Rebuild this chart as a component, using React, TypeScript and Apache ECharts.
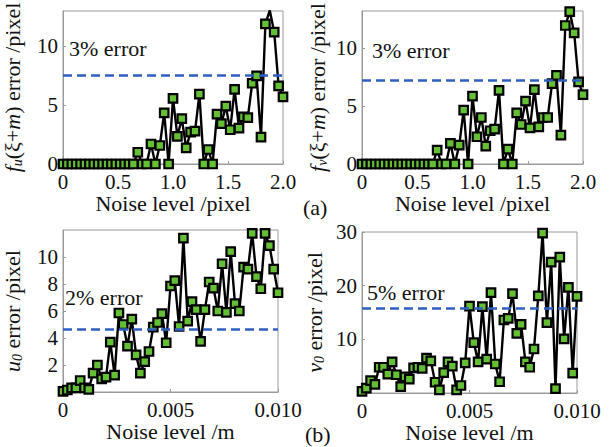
import React, { useEffect, useRef } from "react";
import * as echarts from "echarts";

// Noise levels (pixel) for panel (a)
const noisePx = [
  0, 0.04, 0.08, 0.12, 0.16, 0.2, 0.24, 0.28, 0.32, 0.36, 0.4, 0.44, 0.48, 0.52, 0.56, 0.6, 0.64,
  0.68, 0.72, 0.76, 0.8, 0.84, 0.88, 0.92, 0.96, 1.0, 1.04, 1.08, 1.12, 1.16, 1.2, 1.24, 1.28,
  1.32, 1.36, 1.4, 1.44, 1.48, 1.52, 1.56, 1.6, 1.64, 1.68, 1.72, 1.76, 1.8, 1.84, 1.88, 1.92,
  1.96, 2.0,
];
// Noise levels (m) for panel (b)
const noiseM = [
  0, 0.0002, 0.0004, 0.0006, 0.0008, 0.001, 0.0012, 0.0014, 0.0016, 0.0018, 0.002, 0.0022, 0.0024,
  0.0026, 0.0028, 0.003, 0.0032, 0.0034, 0.0036, 0.0038, 0.004, 0.0042, 0.0044, 0.0046, 0.0048,
  0.005, 0.0052, 0.0054, 0.0056, 0.0058, 0.006, 0.0062, 0.0064, 0.0066, 0.0068, 0.007, 0.0072,
  0.0074, 0.0076, 0.0078, 0.008, 0.0082, 0.0084, 0.0086, 0.0088, 0.009, 0.0092, 0.0094, 0.0096,
  0.0098, 0.01,
];

const fuError = [
  0, 0, 0, 0, 0, 0, 0, 0, 0, 0, 0, 0, 0, 0, 0, 0, 0,
  1.0, 0, 0, 1.7, 0, 1.57, 4.34, 0,
  5.57, 2.34, 3.86, 1.37, 2.71, 2.8, 5.94, 0, 1.23, 0, 4.23, 3.43, 4.91, 2.91, 6.34, 3.05, 4.0,
  3.94, 6.86, 7.48, 2.29, 11.91, 13.05, 11.2, 6.63, 5.71,
];
const fvError = [
  0, 0, 0, 0, 0, 0, 0, 0, 0, 0, 0, 0, 0, 0, 0, 0, 0,
  1.2, 0, 0, 1.78, 0, 1.63, 4.64, 0,
  5.85, 2.35, 4.01, 1.55, 2.87, 3.01, 6.36, 0, 1.29, 0, 4.41, 3.41, 5.42, 3.12, 6.42, 3.21, 4.01,
  4.01, 6.94, 7.65, 2.49, 11.95, 13.15, 11.32, 7.08, 5.99,
];
const u0Error = [
  0.05, 0.15, 0.3, 0.3, 0.85, 0.3, 0.2, 1.4, 2.0, 0.97, 1.1, 3.7, 1.25, 5.85, 5.0, 3.4, 5.4, 2.75,
  1.4, 2.25, 3.0, 4.8, 5.15, 5.8, 3.65, 7.85, 8.25, 4.85, 11.4, 5.25, 6.7, 6.1, 3.75, 6.1, 8.15,
  7.7, 6.0, 9.5, 5.9, 10.4, 6.55, 6.0, 9.25, 9.1, 11.75, 8.55, 7.65, 11.75, 10.85, 9.1, 7.35,
];
const v0Error = [
  0.3, 0.9, 2.3, 1.6, 4.8, 4.8, 3.5, 5.8, 3.4, 1.2, 3.0, 2.6, 4.7, 4.8, 4.6, 6.5, 6.0, 2.0, 0.6,
  3.8, 5.8, 5.0, 0.6, 1.4, 5.6, 16.2, 9.4, 5.8, 16.1, 6.3, 18.7, 5.4, 2.1, 13.6, 13.9, 18.5, 11.1,
  12.8, 5.8, 4.8, 8.2, 18.1, 29.8, 13.1, 24.4, 0.8, 25.3, 10.1, 19.7, 3.7, 18.0,
];

const thresholds = [7.55, 7.22, 4.65, 15.8];
const thresholdLabels = ["3% error", "3% error", "2% error", "5% error"];
const xTitles = ["Noise level /pixel", "Noise level /pixel", "Noise level /m", "Noise level /m"];
const yTitles = [
  "{it|f}{sub|u}(ξ+{it|m}) error /pixel",
  "{it|f}{sub|v}(ξ+{it|m}) error /pixel",
  "{it|u}{sub|0} error /pixel",
  "{it|v}{sub|0} error /pixel",
];
const panelLabels = ["(a)", "(b)"];

const FONT = "Liberation Serif";
const GRAY = "#9a9a9a";
const INK = "#111";

export default function App() {
  const ref = useRef<HTMLDivElement>(null);
  useEffect(() => {
    if (!ref.current) return;
    const chart = echarts.init(ref.current, null, { renderer: "svg" });

    const grids = [
      { left: 62, top: 11, width: 221, height: 153 },
      { left: 362, top: 11, width: 221, height: 153 },
      { left: 62, top: 230, width: 216, height: 162 },
      { left: 362, top: 232, width: 215, height: 161 },
    ].map((g) => ({ ...g, show: true, borderColor: GRAY, borderWidth: 1, containLabel: false }));

    const xCfg = [
      { min: 0, max: 2, interval: 0.5, fmt: (v: number) => (v === 0 ? "0" : v.toFixed(1)), gap: 24 },
      { min: 0, max: 2, interval: 0.5, fmt: (v: number) => (v === 0 ? "0" : v.toFixed(1)), gap: 24 },
      { min: 0, max: 0.01, interval: 0.005, fmt: (v: number) => (v === 0 ? "0" : v.toFixed(3)), gap: 27 },
      { min: 0, max: 0.01, interval: 0.005, fmt: (v: number) => (v === 0 ? "0" : v.toFixed(3)), gap: 27 },
    ];
    const yCfg = [
      { min: 0, max: 13, interval: 5, showMin: true, showMax: false, gap: 39 },
      { min: 0, max: 13.2, interval: 5, showMin: true, showMax: false, gap: 33 },
      { min: 0, max: 12, interval: 2, showMin: false, showMax: false, gap: 39 },
      { min: 0, max: 30, interval: 10, showMin: false, showMax: true, gap: 36 },
    ];

    const richName = {
      it: { fontStyle: "italic", fontSize: 22, fontFamily: FONT, color: INK },
      sub: { fontStyle: "italic", fontSize: 14, fontFamily: FONT, color: INK, padding: [10, 0, 0, 0] },
    };

    const xAxis = xCfg.map((c, i) => ({
      type: "value",
      gridIndex: i,
      min: c.min,
      max: c.max,
      interval: c.interval,
      name: xTitles[i],
      nameLocation: "middle",
      nameGap: c.gap,
      nameTextStyle: { fontSize: 22, fontFamily: FONT, color: INK },
      axisLine: { show: true, lineStyle: { color: GRAY, width: 1 } },
      axisTick: { show: true, inside: true, length: 3, lineStyle: { color: GRAY } },
      axisLabel: { fontSize: 21, fontFamily: FONT, color: INK, margin: 7, formatter: c.fmt },
      splitLine: { show: false },
    }));

    const yAxis = yCfg.map((c, i) => ({
      type: "value",
      gridIndex: i,
      min: c.min,
      max: c.max,
      interval: c.interval,
      name: yTitles[i],
      nameLocation: "middle",
      nameGap: c.gap,
      nameRotate: 90,
      nameTextStyle: { fontSize: 22, fontFamily: FONT, color: INK, rich: richName },
      axisLine: { show: true, lineStyle: { color: GRAY, width: 1 } },
      axisTick: { show: true, inside: true, length: 3, lineStyle: { color: GRAY } },
      axisLabel: {
        fontSize: 21,
        fontFamily: FONT,
        color: INK,
        margin: 5,
        showMinLabel: c.showMin,
        showMaxLabel: c.showMax,
      },
      splitLine: { show: false },
    }));

    const datasets = [
      [noisePx, fuError],
      [noisePx, fvError],
      [noiseM, u0Error],
      [noiseM, v0Error],
    ];

    const series = datasets.map(([xs, ys], i) => ({
      type: "line",
      xAxisIndex: i,
      yAxisIndex: i,
      data: xs.map((x, j) => [x, ys[j]]),
      symbol: "rect",
      symbolSize: 8.5,
      showAllSymbol: true,
      lineStyle: { color: "#000", width: 2.4 },
      itemStyle: { color: "#63c035", borderColor: "#000", borderWidth: 2.2 },
      markLine: {
        silent: true,
        symbol: ["none", "none"],
        label: { show: false },
        lineStyle: { type: [9, 5], color: "#2f5fbf", width: 2.5 },
        data: [{ yAxis: thresholds[i] }],
      },
    }));

    const textPos = [
      [69, 48],
      [372, 50],
      [65, 297],
      [367, 292],
    ];
    const graphic: any[] = textPos.map(([x, y], i) => ({
      type: "text",
      left: x,
      top: y - 11,
      style: { text: thresholdLabels[i], fontSize: 22, fontFamily: FONT, fill: INK },
      z: 100,
    }));
    graphic.push({
      type: "text",
      left: 303,
      top: 196,
      style: { text: panelLabels[0], fontSize: 22, fontFamily: FONT, fill: INK },
    });
    graphic.push({
      type: "text",
      left: 305,
      top: 423,
      style: { text: panelLabels[1], fontSize: 22, fontFamily: FONT, fill: INK },
    });

    chart.setOption({
      animation: false,
      textStyle: { fontFamily: FONT },
      grid: grids,
      xAxis,
      yAxis,
      series,
      graphic,
    });
    return () => chart.dispose();
  }, []);

  return (
    <div
      ref={ref}
      style={{ position: "fixed", left: 0, top: 0, width: 616, height: 447, background: "#fff" }}
    />
  );
}
